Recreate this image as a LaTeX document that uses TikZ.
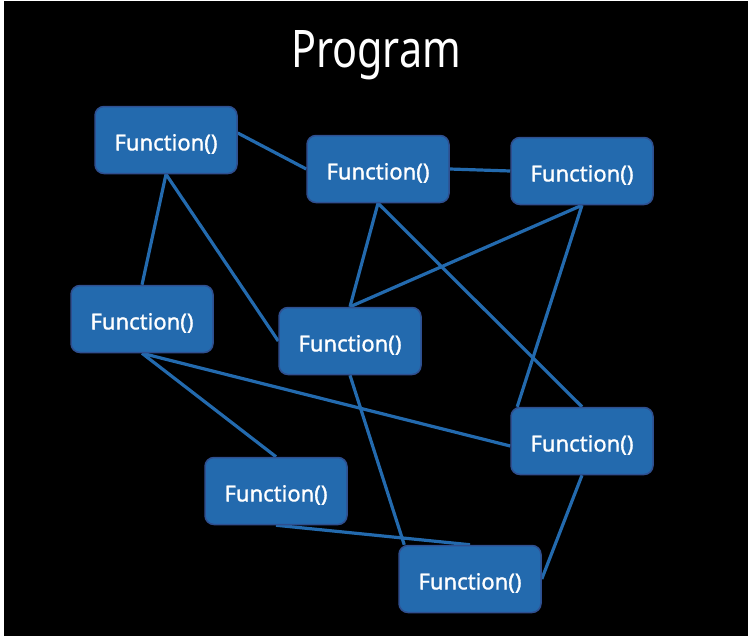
\documentclass[tikz,border=0pt]{standalone}
\usepackage{fontspec}
\setmainfont{Noto Sans}
\newfontfamily\fnfont[FakeBold=1.3]{Noto Sans}
\usetikzlibrary{backgrounds}
\definecolor{boxblue}{HTML}{236AAE}
\definecolor{boxedge}{HTML}{2F4F8F}
\definecolor{linkblue}{HTML}{236AAE}
\newcommand{\fn}{\raisebox{-4pt}[\height][\depth]{\resizebox{103pt}{!}{\fnfont Function()}}}
\begin{document}
\begin{tikzpicture}[x=1pt,y=-1pt,
  fbox/.style={draw=boxedge,line width=1.5pt,fill=boxblue,rounded corners=9pt,
    minimum width=142pt,minimum height=67pt,inner sep=0pt,text=white,
    font=\fontsize{20}{24}\selectfont},
  link/.style={draw=linkblue,line width=3.2pt}]
\useasboundingbox (0,0) rectangle (750,640);
\node[fbox] (A) at (166,140) {\fn};
\node[fbox] (B) at (378,169) {\fn};
\node[fbox] (C) at (582,171) {\fn};
\node[fbox] (D) at (142,319) {\fn};
\node[fbox] (E) at (350,341) {\fn};
\node[fbox] (F) at (582,441) {\fn};
\node[fbox] (G) at (276,491) {\fn};
\node[fbox] (H) at (470,579) {\fn};
\node[text=white,anchor=base,inner sep=0pt] (T) at (376,67) {\resizebox{170pt}{37pt}{\fontsize{44}{50}\selectfont Program}};
\begin{scope}[on background layer]
\fill[black] (4,1) rectangle (748,636);
\draw[link] ([yshift=7pt]A.east) -- (B.west);
\draw[link] (B.east) -- (C.west);
\draw[link] (A.south) -- (D.north);
\draw[link] (A.south) -- (E.west);
\draw[link] (B.south) -- (E.north);
\draw[link] (B.south) -- (F.north);
\draw[link] (C.south) -- (E.north);
\draw[link] (C.south) -- ([xshift=7pt]F.north west);
\draw[link] (D.south) -- ([yshift=-5pt]F.west);
\draw[link] (D.south) -- (G.north);
\draw[link] (E.south) -- ([xshift=6pt]H.north west);
\draw[link] (G.south) -- (H.north);
\draw[link] (F.south) -- (H.east);
\end{scope}
\end{tikzpicture}
\end{document}
